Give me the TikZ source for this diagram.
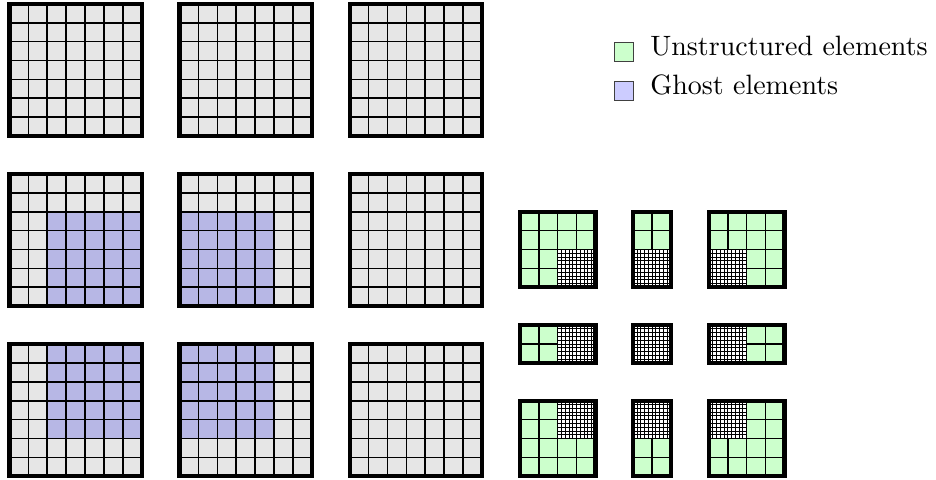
\documentclass[tikz,border=0pt]{standalone}
\usetikzlibrary{positioning}
\definecolor{cellgrey}{RGB}{230,230,230}
\definecolor{ghostblue}{RGB}{183,183,229}
\definecolor{ghostkey}{RGB}{204,204,255}
\definecolor{unstrgreen}{RGB}{204,255,204}
\tikzset{
  cellmesh/.style={draw=black, line width=0.6pt, step=1},
  finemesh/.style={draw=black, line width=0.3pt, step=0.2},
  meshframe/.style={draw=black, line width=1.5pt},
  swatch/.style={draw=black!75, minimum size=6.75pt, inner sep=0pt},
  keytext/.style={font=\normalsize, inner sep=0pt}
}
\begin{document}
\begin{tikzpicture}[x=6.75pt,y=6.75pt]
  \useasboundingbox (-0.5,-0.15) rectangle (49.02,25.2);

  \fill[cellgrey] (0,18) rectangle ++(7,7); \draw[cellmesh] (0,18) grid ++(7,7); \draw[meshframe] (0,18) rectangle ++(7,7);
  \fill[cellgrey] (9,18) rectangle ++(7,7); \draw[cellmesh] (9,18) grid ++(7,7); \draw[meshframe] (9,18) rectangle ++(7,7);
  \fill[cellgrey] (18,18) rectangle ++(7,7); \draw[cellmesh] (18,18) grid ++(7,7); \draw[meshframe] (18,18) rectangle ++(7,7);

  \fill[cellgrey] (0,9) rectangle ++(7,7); \fill[ghostblue] (2,9) rectangle (7,14);
  \draw[cellmesh] (0,9) grid ++(7,7); \draw[meshframe] (0,9) rectangle ++(7,7);
  \fill[cellgrey] (9,9) rectangle ++(7,7); \fill[ghostblue] (9,9) rectangle (14,14);
  \draw[cellmesh] (9,9) grid ++(7,7); \draw[meshframe] (9,9) rectangle ++(7,7);
  \fill[cellgrey] (18,9) rectangle ++(7,7); \draw[cellmesh] (18,9) grid ++(7,7); \draw[meshframe] (18,9) rectangle ++(7,7);

  \fill[cellgrey] (0,0) rectangle ++(7,7); \fill[ghostblue] (2,2) rectangle (7,7);
  \draw[cellmesh] (0,0) grid ++(7,7); \draw[meshframe] (0,0) rectangle ++(7,7);
  \fill[cellgrey] (9,0) rectangle ++(7,7); \fill[ghostblue] (9,2) rectangle (14,7);
  \draw[cellmesh] (9,0) grid ++(7,7); \draw[meshframe] (9,0) rectangle ++(7,7);
  \fill[cellgrey] (18,0) rectangle ++(7,7); \draw[cellmesh] (18,0) grid ++(7,7); \draw[meshframe] (18,0) rectangle ++(7,7);

  \fill[unstrgreen] (27,10) rectangle (31,14); \draw[cellmesh] (27,10) grid (31,14);
  \draw[cellmesh, fill=white] (29,10) rectangle (31,12); \draw[finemesh] (29,10) grid (31,12); \draw[meshframe] (27,10) rectangle (31,14);
  \fill[unstrgreen] (33,10) rectangle (35,14); \draw[cellmesh] (33,10) grid (35,14);
  \draw[cellmesh, fill=white] (33,10) rectangle (35,12); \draw[finemesh] (33,10) grid (35,12); \draw[meshframe] (33,10) rectangle (35,14);
  \fill[unstrgreen] (37,10) rectangle (41,14); \draw[cellmesh] (37,10) grid (41,14);
  \draw[cellmesh, fill=white] (37,10) rectangle (39,12); \draw[finemesh] (37,10) grid (39,12); \draw[meshframe] (37,10) rectangle (41,14);

  \fill[unstrgreen] (27,6) rectangle (31,8); \draw[cellmesh] (27,6) grid (31,8);
  \draw[cellmesh, fill=white] (29,6) rectangle (31,8); \draw[finemesh] (29,6) grid (31,8); \draw[meshframe] (27,6) rectangle (31,8);
  \draw[cellmesh, fill=white] (33,6) rectangle (35,8); \draw[finemesh] (33,6) grid (35,8); \draw[meshframe] (33,6) rectangle (35,8);
  \fill[unstrgreen] (37,6) rectangle (41,8); \draw[cellmesh] (37,6) grid (41,8);
  \draw[cellmesh, fill=white] (37,6) rectangle (39,8); \draw[finemesh] (37,6) grid (39,8); \draw[meshframe] (37,6) rectangle (41,8);

  \fill[unstrgreen] (27,0) rectangle (31,4); \draw[cellmesh] (27,0) grid (31,4);
  \draw[cellmesh, fill=white] (29,2) rectangle (31,4); \draw[finemesh] (29,2) grid (31,4); \draw[meshframe] (27,0) rectangle (31,4);
  \fill[unstrgreen] (33,0) rectangle (35,4); \draw[cellmesh] (33,0) grid (35,4);
  \draw[cellmesh, fill=white] (33,2) rectangle (35,4); \draw[finemesh] (33,2) grid (35,4); \draw[meshframe] (33,0) rectangle (35,4);
  \fill[unstrgreen] (37,0) rectangle (41,4); \draw[cellmesh] (37,0) grid (41,4);
  \draw[cellmesh, fill=white] (37,2) rectangle (39,4); \draw[finemesh] (37,2) grid (39,4); \draw[meshframe] (37,0) rectangle (41,4);

  \node[swatch, fill=unstrgreen] (keyU) at (32.5,22.45) {};
  \node[swatch, fill=ghostkey, below=6.75pt of keyU] (keyG) {};
  \node[keytext, right=5.7pt of keyU, anchor=base west, yshift=-1.4pt] (keyUtext) {Unstructured elements};
  \node[keytext, right=5.7pt of keyG, anchor=base west, yshift=-1.4pt] (keyGtext) {Ghost elements};
\end{tikzpicture}
\end{document}
